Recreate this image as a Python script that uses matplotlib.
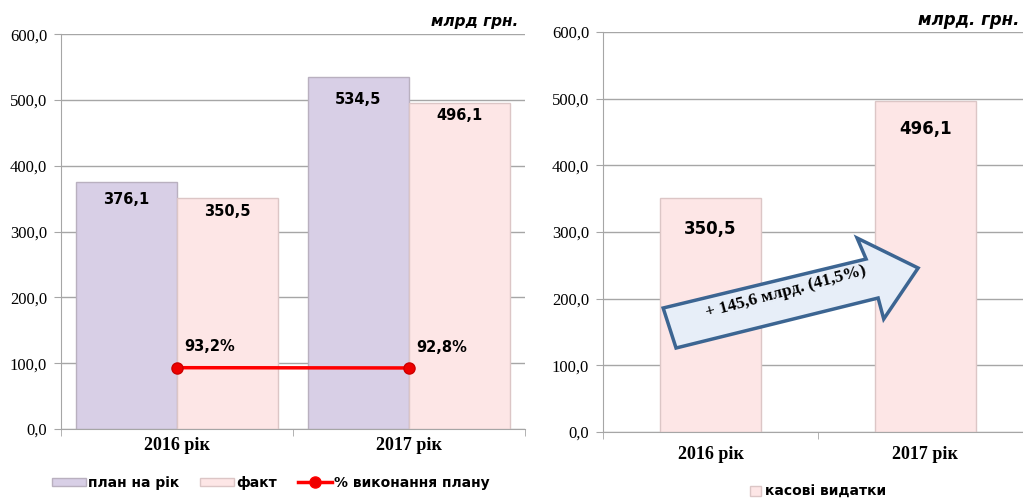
import matplotlib.pyplot as plt
import numpy as np
from matplotlib.patches import Polygon, Patch
from matplotlib.lines import Line2D

years = ['2016 рік', '2017 рік']
plan = [376.1, 534.5]
fakt = [350.5, 496.1]
pct = [93.2, 92.8]
pct_labels = ['93,2%', '92,8%']
kasovi = [350.5, 496.1]
yticks = [0, 100, 200, 300, 400, 500, 600]

PLAN_C = '#d8cfe6'
FAKT_C = '#fde6e6'
EDGE_C = '#b9b0bf'
GRID_C = '#a6a6a6'


def fmt(v):
    return f'{v:.1f}'.replace('.', ',')


def style_axes(ax, xpad):
    ax.set_ylim(0, 600)
    ax.set_xlim(-0.5, 1.5)
    ax.set_yticks(yticks)
    ax.set_yticklabels([fmt(v) for v in yticks], family='Liberation Serif', fontsize=12)
    ax.yaxis.grid(True, color=GRID_C, lw=1)
    ax.set_axisbelow(True)
    for s in ['top', 'right']:
        ax.spines[s].set_visible(False)
    for s in ['left', 'bottom']:
        ax.spines[s].set_color(GRID_C)
    ax.tick_params(axis='y', length=5, color=GRID_C, pad=5)
    ax.set_xticks([0, 1])
    ax.set_xticklabels(years, family='Liberation Serif', fontsize=13, fontweight='bold')
    ax.tick_params(axis='x', length=0, pad=xpad)
    ax.set_xticks([-0.5, 0.5, 1.5], minor=True)
    ax.tick_params(axis='x', which='minor', length=5, color=GRID_C)


fig = plt.figure(figsize=(10.23, 5.01), dpi=100)

# left chart: plan vs fact
ax1 = fig.add_axes([0.0596, 0.1437, 0.4535, 0.788])
style_axes(ax1, 6)
x = np.arange(len(years))
w = 0.435
ax1.bar(x - w / 2, plan, w, color=PLAN_C, edgecolor=EDGE_C, lw=1)
ax1.bar(x + w / 2, fakt, w, color=FAKT_C, edgecolor='#dcc6c6', lw=1)
for i in range(len(years)):
    ax1.text(x[i] - w / 2, plan[i] - 28 + (i * -6), fmt(plan[i]), ha='center', va='center',
             fontsize=10.5, fontweight='bold')
    ax1.text(x[i] + w / 2, fakt[i] - 20, fmt(fakt[i]), ha='center', va='center',
             fontsize=10.5, fontweight='bold')
ax1.plot(x, pct, color='#ff0000', lw=2.5, marker='o', ms=8,
         mfc='#ee0000', mec='#cc0000', zorder=5)
for i in range(len(years)):
    ax1.annotate(pct_labels[i], (x[i], pct[i]), xytext=(5, 15), textcoords='offset points',
                 fontsize=10.5, fontweight='bold', va='center')
fig.text(0.507, 0.957, 'млрд грн.', ha='right', va='center', fontsize=11,
         fontweight='bold', style='italic')

leg_handles = [Patch(facecolor=PLAN_C, edgecolor=EDGE_C),
               Patch(facecolor=FAKT_C, edgecolor='#dcc6c6'),
               Line2D([0], [0], color='#ff0000', lw=2.5, marker='o', ms=8, mfc='#ee0000')]
fig.legend(leg_handles, ['план на рік', 'факт', '% виконання плану'], loc='center',
           bbox_to_anchor=(0.265, 0.036), ncol=3, frameon=False,
           prop={'weight': 'bold', 'size': 10}, handlelength=2.4, handleheight=0.6,
           columnspacing=1.5, handletextpad=0.2)

# right chart: cash expenditures
ax2 = fig.add_axes([0.5894, 0.1377, 0.4203, 0.7984])
style_axes(ax2, 10)
ax2.bar(x, kasovi, 0.47, color=FAKT_C, edgecolor='#dcc6c6', lw=1)
for i in range(len(years)):
    ax2.text(x[i], kasovi[i] - 46 + i * 4, fmt(kasovi[i]), ha='center', va='center',
             fontsize=12, fontweight='bold')
fig.text(0.997, 0.961, 'млрд. грн.', ha='right', va='center', fontsize=12,
         fontweight='bold', style='italic')

arrow_pts = [(0.140, 0.310), (0.612, 0.4325), (0.591, 0.485), (0.733, 0.41),
             (0.653, 0.2825), (0.640, 0.335), (0.170, 0.21)]
ax2.add_patch(Polygon(arrow_pts, closed=True, transform=ax2.transAxes, facecolor='#e7eef8',
                      edgecolor='#3c6592', lw=2.5, zorder=6, clip_on=False))
ax2.text(0.425, 0.35, '+ 145,6 млрд. (41,5%)', transform=ax2.transAxes, rotation=15,
         ha='center', va='center', family='Liberation Serif', fontsize=12.5,
         fontweight='bold', zorder=7)

fig.legend([Patch(facecolor=FAKT_C, edgecolor='#dcc6c6')], ['касові видатки'], loc='center',
           bbox_to_anchor=(0.80, 0.018), frameon=False, prop={'weight': 'bold', 'size': 10},
           handlelength=0.8, handleheight=0.8, handletextpad=0.3)

fig.savefig('out.png', dpi=100)
